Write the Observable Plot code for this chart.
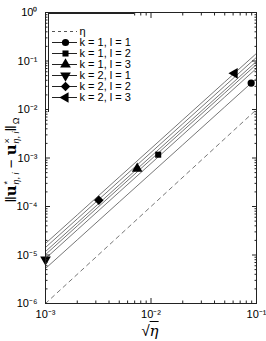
<!DOCTYPE html>
<html><head><meta charset="utf-8">
<script src="https://cdn.jsdelivr.net/npm/d3@7"></script>
<script src="https://cdn.jsdelivr.net/npm/@observablehq/plot@0.6"></script>
<style>
body{margin:0;background:#fff;font-family:"Liberation Sans",Arial,sans-serif;color:#000;}
#wrap{position:relative;width:266px;height:341px;}
#legend{position:absolute;left:48px;top:13px;}
#ylab{position:absolute;left:12px;top:160px;transform:translate(-50%,-50%) rotate(-90deg);white-space:nowrap;font-size:15px;line-height:1;color:#000;}
#ylab b{font-family:"DejaVu Serif",serif;font-weight:bold;}
.ss{display:inline-block;vertical-align:middle;font-size:9px;line-height:9px;text-align:left;margin-left:1px;}
.ss span{display:block;}
.ss i{font-style:italic;}
#xlab{position:absolute;left:150px;top:331px;transform:translate(-50%,-50%);font-size:15px;white-space:nowrap;color:#000;}
#xlab .ov{text-decoration:overline;font-style:italic;font-family:"DejaVu Serif",serif;}
</style></head><body>
<div id="wrap"></div>
<script>
const xValues = [0.001, 0.002, 0.005, 0.01, 0.02, 0.05, 0.1];
const seriesNames = ["k = 1, l = 1", "k = 1, l = 2", "k = 1, l = 3", "k = 2, l = 1", "k = 2, l = 2", "k = 2, l = 3"];
const k1l1 = [5.27e-6, 2.05e-5, 1.24e-4, 4.81e-4, 1.87e-3, 1.13e-2, 4.39e-2];
const k1l2 = [1.02e-5, 3.98e-5, 2.40e-4, 9.33e-4, 3.63e-3, 2.19e-2, 8.51e-2];
const k1l3 = [1.18e-5, 4.59e-5, 2.77e-4, 1.08e-3, 4.19e-3, 2.52e-2, 9.82e-2];
const k2l1 = [8.47e-6, 3.30e-5, 1.99e-4, 7.73e-4, 3.01e-3, 1.81e-2, 7.05e-2];
const k2l2 = [1.43e-5, 5.56e-5, 3.35e-4, 1.30e-3, 5.07e-3, 3.05e-2, 1.19e-1];
const k2l3 = [1.73e-5, 6.71e-5, 4.05e-4, 1.57e-3, 6.12e-3, 3.69e-2, 1.436e-1];
const markerX = [0.089, 0.0117, 0.0074, 0.001, 0.0032, 0.062];
const markerY = [0.035, 0.00117, 0.0006, 0.0000080, 0.000134, 0.0557];
const etaX = [0.001, 0.1];
const etaY = [1e-6, 1e-2];
const etaLabel = "η";
const xTicks = [1e-3, 1e-2, 1e-1];
const yTicks = [1e-6, 1e-5, 1e-4, 1e-3, 1e-2, 1e-1, 1e0];

const allSeries = [k1l1, k1l2, k1l3, k2l1, k2l2, k2l3];
const lineRows = seriesNames.flatMap((name, i) => xValues.map((x, j) => ({name, x, y: allSeries[i][j]})));
const markerRows = seriesNames.map((name, i) => ({name, x: markerX[i], y: markerY[i]}));
const etaRows = etaX.map((x, i) => ({x, y: etaY[i]}));

const decadesMinor = (lo, hi) => { const out = []; for (let e = lo; e < hi; e++) for (let m = 2; m <= 9; m++) out.push(m * Math.pow(10, e)); return out; };
const xMinor = decadesMinor(-3, -1);
const yMinor = decadesMinor(-6, 0);

const supMap = {"-": "⁻", "0": "⁰", "1": "¹", "2": "²", "3": "³", "4": "⁴", "5": "⁵", "6": "⁶", "7": "⁷", "8": "⁸", "9": "⁹"};
const fmt = d => "10" + String(Math.round(Math.log10(d))).split("").map(c => supMap[c]).join("");
const blank = () => "";

function tri(dir) {
  return {draw(ctx, size) {
    const s = Math.sqrt(4 * size / Math.sqrt(3)) * 1.1, h = Math.sqrt(3) / 2 * s;
    let pts;
    if (dir === "down") pts = [[0, 2*h/3], [-s/2, -h/3], [s/2, -h/3]];
    else if (dir === "left") pts = [[-2*h/3, 0], [h/3, -s/2], [h/3, s/2]];
    else pts = [[0, -2*h/3], [-s/2, h/3], [s/2, h/3]];
    ctx.moveTo(pts[0][0], pts[0][1]); ctx.lineTo(pts[1][0], pts[1][1]); ctx.lineTo(pts[2][0], pts[2][1]); ctx.closePath();
  }};
}
const diamond = {draw(ctx, size) { const r = Math.sqrt(size / 2) * 1.05; ctx.moveTo(0, -r); ctx.lineTo(r, 0); ctx.lineTo(0, r); ctx.lineTo(-r, 0); ctx.closePath(); }};
const square = {draw(ctx, size) { const r = Math.sqrt(size) / 2 * 0.95; ctx.rect(-r, -r, 2*r, 2*r); }};
const symbolRange = ["circle", square, tri("up"), tri("down"), diamond, tri("left")];
const symbolScale = {domain: seriesNames, range: symbolRange};

const ink = "#222";
const main = Plot.plot({
  width: 266, height: 341,
  marginLeft: 45, marginRight: 10, marginTop: 12, marginBottom: 38,
  style: {fontFamily: "Liberation Sans, Arial, sans-serif", fontSize: "11px", color: "#000", background: "white"},
  x: {type: "log", domain: [1e-3, 1e-1]},
  y: {type: "log", domain: [1e-6, 1e0]},
  symbol: symbolScale,
  marks: [
    Plot.line(etaRows, {x: "x", y: "y", stroke: "#666", strokeWidth: 0.9, strokeDasharray: "4,4"}),
    Plot.line(lineRows, {x: "x", y: "y", z: "name", stroke: "#666", strokeWidth: 0.9}),
    Plot.dot(markerRows, {x: "x", y: "y", symbol: "name", fill: "black", stroke: "none", r: 3.6}),
    Plot.frame({stroke: ink, strokeWidth: 1}),
    Plot.axisX(xTicks, {anchor: "bottom", tickSize: -5, tickPadding: 12, tickFormat: fmt, label: null, stroke: ink, fill: "black", fontSize: 11}),
    Plot.axisX(xTicks, {anchor: "top", tickSize: -5, tickFormat: blank, label: null, stroke: ink}),
    Plot.axisX(xMinor, {anchor: "bottom", tickSize: -2.5, tickFormat: blank, label: null, stroke: ink}),
    Plot.axisX(xMinor, {anchor: "top", tickSize: -2.5, tickFormat: blank, label: null, stroke: ink}),
    Plot.axisY(yTicks, {anchor: "left", tickSize: -5, tickPadding: 13, tickFormat: fmt, label: null, stroke: ink, fill: "black", fontSize: 11}),
    Plot.axisY(yTicks, {anchor: "right", tickSize: -5, tickFormat: blank, label: null, stroke: ink}),
    Plot.axisY(yMinor, {anchor: "left", tickSize: -2.5, tickFormat: blank, label: null, stroke: ink}),
    Plot.axisY(yMinor, {anchor: "right", tickSize: -2.5, tickFormat: blank, label: null, stroke: ink})
  ]
});

const legendLabels = [etaLabel, ...seriesNames];
const legend = Plot.plot({
  width: 86, height: 99, margin: 0,
  style: {fontFamily: "Liberation Sans, Arial, sans-serif", fontSize: "11px", color: "#000", background: "white"},
  x: {domain: [0, 86], range: [0, 86], axis: null},
  y: {type: "point", domain: legendLabels, range: [11, 91], axis: null},
  symbol: symbolScale,
  marks: [
    Plot.ruleY([etaLabel], {y: d => d, x1: 4, x2: 29, stroke: "#555", strokeDasharray: "3,3"}),
    Plot.ruleY(seriesNames, {y: d => d, x1: 4, x2: 29, stroke: ink, strokeWidth: 1}),
    Plot.dot(seriesNames, {x: 17, y: d => d, symbol: d => d, fill: "black", stroke: "none", r: 3.6}),
    Plot.text(legendLabels, {x: 31, y: d => d, text: d => d, textAnchor: "start", fontSize: 11, fill: "black"}),
    Plot.frame({stroke: ink})
  ]
});
legend.id = "legend";

const wrap = document.getElementById("wrap");
wrap.appendChild(main);
wrap.appendChild(legend);
const ylab = document.createElement("div");
ylab.id = "ylab";
ylab.innerHTML = '‖<b>u</b><span class="ss"><span>*</span><span><i>η</i>, <i>i</i></span></span> − <b>u</b><span class="ss"><span>×</span><span><i>η</i>, <i>i</i></span></span>‖<span class="ss"><span>&nbsp;</span><span>Ω</span></span>';
wrap.appendChild(ylab);
const xlab = document.createElement("div");
xlab.id = "xlab";
xlab.innerHTML = '√<span class="ov">η</span>';
wrap.appendChild(xlab);
</script>
</body></html>
